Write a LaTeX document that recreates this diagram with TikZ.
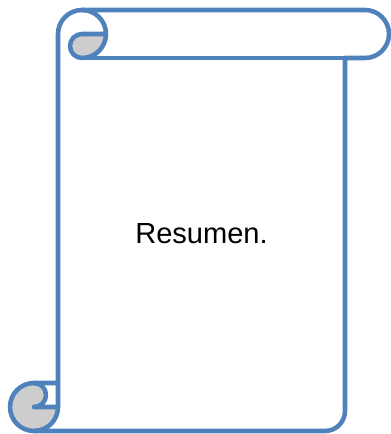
\documentclass[tikz,border=0pt]{standalone}
\usepackage{fontspec}
\setmainfont{Liberation Sans}
\definecolor{scrollblue}{RGB}{79,129,189}
\definecolor{curlgray}{RGB}{205,205,205}

\begin{document}
\begin{tikzpicture}[
    x=0.75pt,
    y=0.75pt,
    line cap=round,
    line join=round,
    edge/.style={draw=scrollblue,line width=3.4pt},
    curl/.style={fill=curlgray},
    label/.style={font=\fontsize{21.8}{26}\selectfont,inner sep=0pt,anchor=base}
]
\useasboundingbox (0,0) rectangle (390,434);

% Shaded curls.
\path[curl] (82,400) arc[start angle=90,end angle=270,radius=12]
    arc[start angle=-90,end angle=0,radius=24] -- cycle;
\path[curl] (34,51) arc[start angle=90,end angle=270,radius=24]
    arc[start angle=-90,end angle=0,radius=24] -- (34,27)
    arc[start angle=-90,end angle=90,radius=12] -- cycle;

% Outline of the sheet.
\draw[edge] (58,51) -- (58,400) arc[start angle=180,end angle=90,radius=24]
    -- (365,424) arc[start angle=90,end angle=-90,radius=24]
    -- (345,376) -- (345,23) arc[start angle=0,end angle=-90,radius=20]
    -- (34,3) arc[start angle=-90,end angle=-270,radius=24] -- cycle;

% Top roll.
\draw[edge] (82,424) arc[start angle=90,end angle=-90,radius=24]
    arc[start angle=-90,end angle=-270,radius=12] -- (106,400);
\draw[edge] (345,376) -- (82,376);

% Bottom roll.
\draw[edge] (34,51) arc[start angle=90,end angle=-90,radius=12] -- (58,27);
\draw[edge] (34,3) arc[start angle=-90,end angle=0,radius=24] -- (58,51);

\node[label] (title) at (201.5,190) {Resumen.};

\end{tikzpicture}
\end{document}
